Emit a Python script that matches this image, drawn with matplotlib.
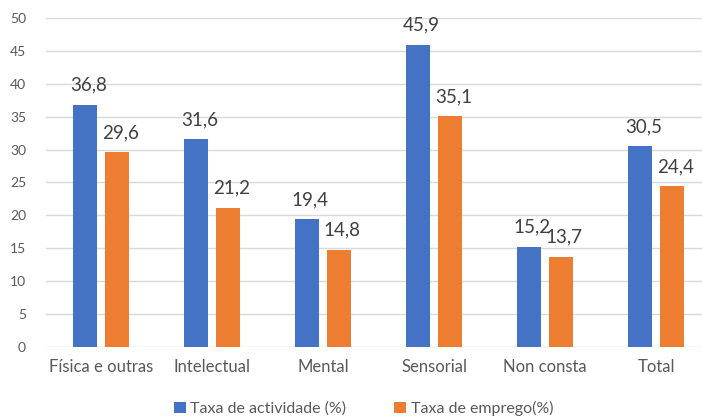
import matplotlib
matplotlib.use("Agg")
import matplotlib.pyplot as plt
import numpy as np

categories = ["Física e outras", "Intelectual", "Mental", "Sensorial", "Non consta", "Total"]
actividade = [36.8, 31.6, 19.4, 45.9, 15.2, 30.5]
emprego = [29.6, 21.2, 14.8, 35.1, 13.7, 24.4]
series_names = ["Taxa de actividade (%)", "Taxa de emprego(%)"]

blue = "#4472C4"
orange = "#ED7D31"
txt = "#404040"
tick_col = "#595959"

plt.rcParams["font.family"] = ["Lato", "DejaVu Sans"]

fig = plt.figure(figsize=(7.02, 4.18), dpi=100)
# plot area runs slightly past the right edge of the canvas
ax = fig.add_axes([45.5 / 702, 71 / 418, 666 / 702, 329 / 418])

x = np.arange(len(categories))
w = 0.216
gap = 0.072
off = (w + gap) / 2
b1 = ax.bar(x - off, actividade, w, color=blue, label=series_names[0], zorder=3)
b2 = ax.bar(x + off, emprego, w, color=orange, label=series_names[1], zorder=3)

for bars, vals in ((b1, actividade), (b2, emprego)):
    for r, v in zip(bars, vals):
        ax.annotate(f"{v:.1f}".replace(".", ","),
                    (r.get_x() + r.get_width() / 2 + 0.03, v),
                    xytext=(0, 8), textcoords="offset points",
                    ha="center", va="bottom", fontsize=13.5, color=txt)

ax.set_xlim(-0.5, len(categories) - 0.5)
ax.set_ylim(0, 50)
ax.set_yticks(range(0, 51, 5))
ax.set_xticks(x)
ax.set_xticklabels(categories)
ax.tick_params(axis="both", length=0, colors=tick_col)
ax.tick_params(axis="y", labelsize=10, pad=14)
ax.tick_params(axis="x", labelsize=12, pad=9)
ax.grid(axis="y", color="#D9D9D9", linewidth=1, zorder=0)
for s in ax.spines.values():
    s.set_visible(False)

fig.legend(handles=[b1, b2], labels=series_names, loc="lower center",
           bbox_to_anchor=(0.518, -0.03), ncol=2, frameon=False,
           fontsize=11.5, handlelength=0.75, handleheight=0.75,
           handletextpad=0.3, columnspacing=3.0, labelcolor=tick_col)

fig.savefig("out.png", dpi=100)
